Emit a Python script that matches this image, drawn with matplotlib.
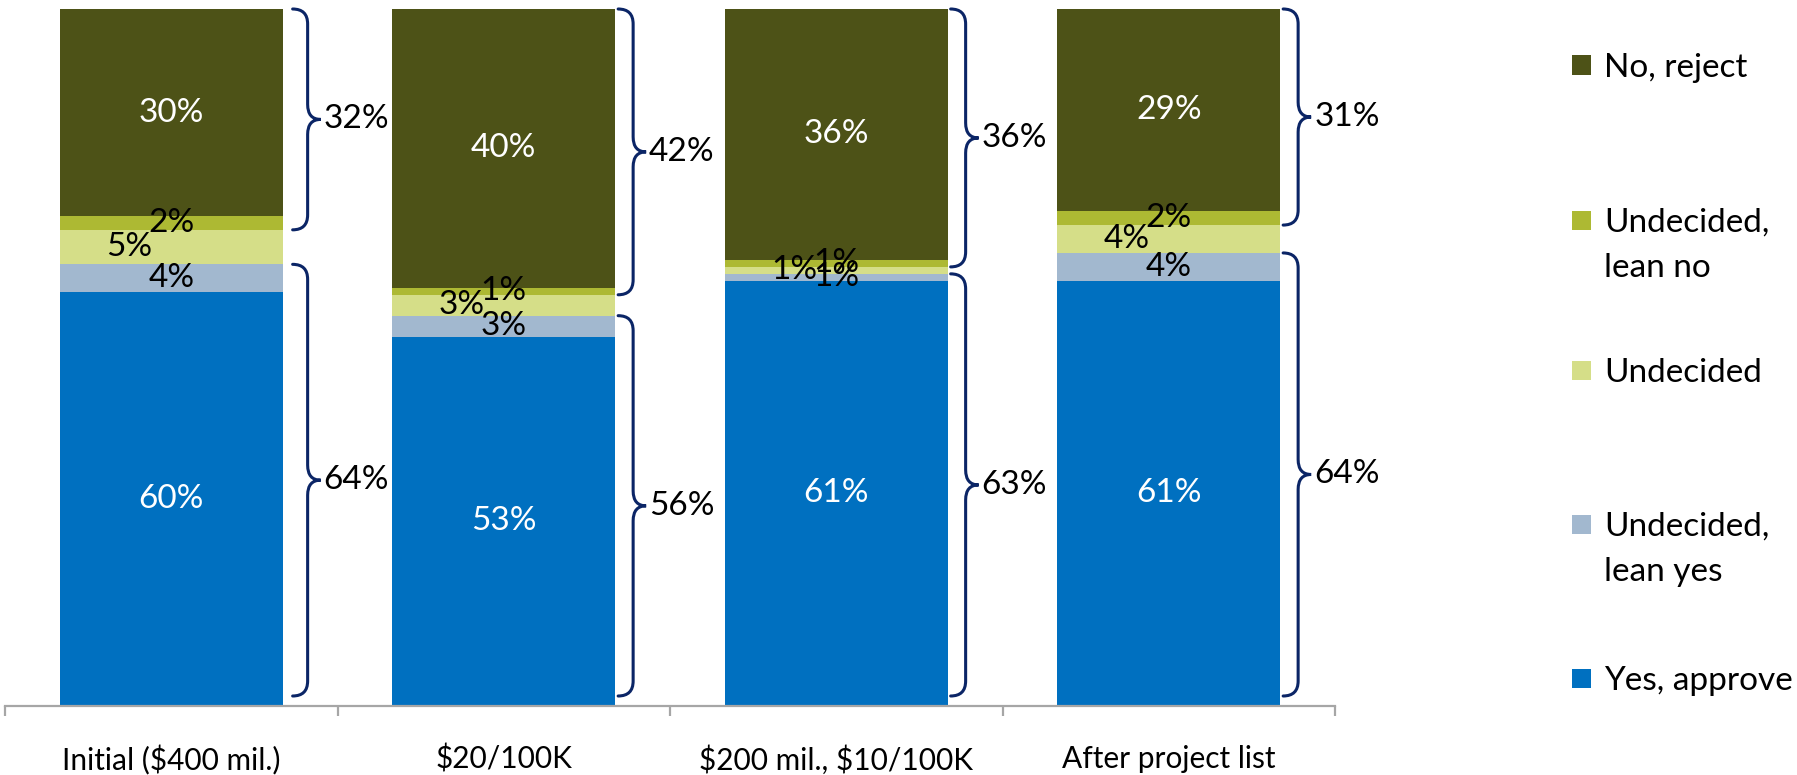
import matplotlib
matplotlib.use("Agg")
import matplotlib.pyplot as plt
from matplotlib.path import Path
from matplotlib.patches import PathPatch, Rectangle
import numpy as np

# ---------------- data ----------------
categories = ["Initial ($400 mil.)", "$20/100K", "$200 mil., $10/100K", "After project list"]
series_names = ["Yes, approve", "Undecided,\nlean yes", "Undecided", "Undecided,\nlean no", "No, reject"]
yes_approve = [60, 53, 61, 61]
lean_yes = [4, 3, 1, 4]
undecided = [5, 3, 1, 4]
lean_no = [2, 1, 1, 2]
no_reject = [30, 40, 36, 29]
approve_total = [64, 56, 63, 64]
reject_total = [32, 42, 36, 31]

colors = ["#0070C0", "#A2B8CF", "#D5DE88", "#ADB933", "#4D5217"]
label_colors = ["white", "black", "black", "black", "white"]

W, H = 1797, 775
plt.rcParams['font.family'] = ['Lato', 'DejaVu Sans']
plt.rcParams['text.parse_math'] = False
fig = plt.figure(figsize=(W / 100, H / 100), dpi=100)

ax_left, ax_right, ax_top, ax_bottom = 5, 1335, 9, 706
ax = fig.add_axes([ax_left / W, 1 - ax_bottom / H, (ax_right - ax_left) / W, (ax_bottom - ax_top) / H])

series = np.array([yes_approve, lean_yes, undecided, lean_no, no_reject], dtype=float)
totals = series.sum(axis=0)
frac = series / totals

x = np.arange(len(categories))
bw = 0.67
bottom = np.zeros(len(categories))
px_per_cat = (ax_right - ax_left) / len(categories)
for k in range(len(series)):
    ax.bar(x, frac[k], bw, bottom=bottom, color=colors[k], edgecolor='none', zorder=2)
    for i in range(len(categories)):
        cy = bottom[i] + frac[k][i] / 2
        dx = -42 if k == 2 else 0
        ax.annotate(f"{int(series[k][i])}%", (x[i], cy), xytext=(dx, 0),
                    textcoords='offset pixels', ha='center', va='center',
                    fontsize=24, color=label_colors[k], zorder=5)
    bottom = bottom + frac[k]

# ---------------- brackets ----------------
bracket_color = "#0B2566"
ry = 15 / (ax_bottom - ax_top)
rx = 15 / px_per_cat
tipx = 13 / px_per_cat


def brace(x0, ybot, ytop):
    x1 = x0 + rx
    x2 = x1 + tipx
    ym = (ybot + ytop) / 2
    verts = [(x0, ytop), (x1, ytop), (x1, ytop - ry),
             (x1, ym + ry), (x1, ym), (x2, ym),
             (x1, ym), (x1, ym - ry),
             (x1, ybot + ry), (x1, ybot), (x0, ybot)]
    codes = [Path.MOVETO, Path.CURVE3, Path.CURVE3,
             Path.LINETO, Path.CURVE3, Path.CURVE3,
             Path.CURVE3, Path.CURVE3,
             Path.LINETO, Path.CURVE3, Path.CURVE3]
    ax.add_patch(PathPatch(Path(verts, codes), fill=False, edgecolor=bracket_color,
                           lw=2.2, capstyle='round', zorder=4, clip_on=False))
    return x2, ym


cum = np.cumsum(frac, axis=0)
for i in range(len(categories)):
    gap = 10 if i == 0 else 3
    x0 = x[i] + bw / 2 + gap / px_per_cat
    # approve bracket: yes + lean yes
    xt, ym = brace(x0, 10 / (ax_bottom - ax_top), cum[1][i])
    ax.text(xt + 3 / px_per_cat, ym, f"{approve_total[i]}%", ha='left', va='center',
            fontsize=24, color='black', zorder=5)
    # reject bracket: lean no + reject
    xt, ym = brace(x0, cum[2][i], 1.0)
    ax.text(xt + 3 / px_per_cat, ym, f"{reject_total[i]}%", ha='left', va='center',
            fontsize=24, color='black', zorder=5)

# ---------------- axes styling ----------------
ax.set_xlim(-0.5, len(categories) - 0.5)
ax.set_ylim(0, 1)
for s in ['left', 'top', 'right']:
    ax.spines[s].set_visible(False)
ax.spines['bottom'].set_color('#A6A6A6')
ax.spines['bottom'].set_linewidth(1.6)
ax.set_yticks([])
ax.set_xticks(x)
ax.set_xticklabels(categories, fontsize=21.5)
ax.tick_params(axis='x', which='major', length=0, pad=28)
ax.set_xticks(np.arange(-0.5, len(categories), 1.0), minor=True)
ax.tick_params(axis='x', which='minor', length=7, width=1.6, color='#A6A6A6', direction='out')

# ---------------- legend ----------------
legend_y = [678, 524, 370, 220, 65]  # centers of first line, per series
sq = 19
for k in range(len(series_names)):
    cy = legend_y[k]
    fig.patches.append(Rectangle(((1572) / W, 1 - (cy + sq / 2) / H), sq / W, sq / H,
                                 transform=fig.transFigure, facecolor=colors[k],
                                 edgecolor='none', figure=fig))
    for j, line in enumerate(series_names[k].split("\n")):
        base = cy + 12 + j * 45
        fig.text(1604 / W, 1 - base / H, line, ha='left', va='baseline', fontsize=24, color='black')

fig.savefig("out.png", dpi=100)
